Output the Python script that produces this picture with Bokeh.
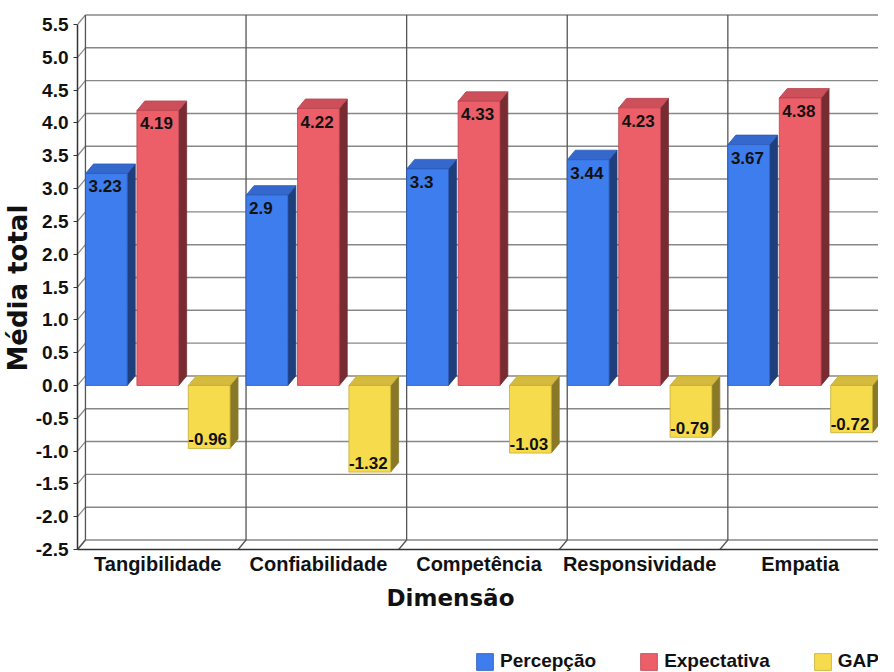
from bokeh.plotting import figure
from bokeh.layouts import column
from bokeh.models import Range1d, FixedTicker, Legend, LegendItem, Title
from bokeh.embed import file_html
from bokeh.resources import INLINE
from bokeh.core.properties import value

# ---------------- data ----------------
categories = ["Tangibilidade", "Confiabilidade", "Competência", "Responsividade", "Empatia"]
percepcao = [3.23, 2.9, 3.3, 3.44, 3.67]
expectativa = [4.19, 4.22, 4.33, 4.23, 4.38]
gap = [-0.96, -1.32, -1.03, -0.79, -0.72]
series_names = ["Percepção", "Expectativa", "GAP"]
y_ticks = [-2.5, -2.0, -1.5, -1.0, -0.5, 0.0, 0.5, 1.0, 1.5, 2.0, 2.5, 3.0, 3.5, 4.0, 4.5, 5.0, 5.5]

# ---------------- styling / geometry ----------------
W, H = 878, 637
LEG_H = 35
B_LEFT, B_RIGHT, B_TOP, B_BOTTOM = 72, 0, 12, 88
frame_w = W - B_LEFT - B_RIGHT
frame_h = H - B_TOP - B_BOTTOM
cat_px = 161.6
unit_px = 65.625
y_start = y_ticks[0]
y_end = y_start + frame_h / unit_px
x_end = frame_w / cat_px
DX = 8 / cat_px          # depth offset (x, data units)
DY = 9.5 / unit_px       # depth offset (y, data units)

front_colors = ["#3d7ded", "#ec5f69", "#f6dc4c"]
top_colors = ["#3568cc", "#cc4f59", "#d4bb40"]
side_colors = ["#1f3f7c", "#772c32", "#8a7829"]
edge_colors = ["#2c5bb8", "#b84550", "#c4ac34"]
offsets = [0.05, 0.37, 0.69]
bar_w = 0.26

p = figure(width=W, height=H, output_backend="svg", toolbar_location=None,
           x_range=Range1d(0, x_end), y_range=Range1d(y_start, y_end),
           min_border_left=B_LEFT, min_border_right=B_RIGHT,
           min_border_top=B_TOP, min_border_bottom=B_BOTTOM, title=None)
p.outline_line_color = None
p.xgrid.visible = False
p.ygrid.visible = False
p.background_fill_color = "white"

# ---------------- 3D walls ----------------
grid_col = "#888888"
wall_col = "#555555"
p.segment(x0=[DX] * len(y_ticks), y0=[v + DY for v in y_ticks],
          x1=[x_end + 1] * len(y_ticks), y1=[v + DY for v in y_ticks],
          line_color=grid_col, line_width=1.4)
p.segment(x0=[0] * len(y_ticks), y0=y_ticks, x1=[DX] * len(y_ticks),
          y1=[v + DY for v in y_ticks], line_color=grid_col, line_width=1.2)
bounds = list(range(len(categories) + 1))
p.segment(x0=[i + DX for i in bounds], y0=[y_start + DY] * len(bounds),
          x1=[i + DX for i in bounds], y1=[y_ticks[-1] + DY] * len(bounds),
          line_color=wall_col, line_width=1.3)
p.segment(x0=bounds, y0=[y_start] * len(bounds),
          x1=[i + DX for i in bounds], y1=[y_start + DY] * len(bounds),
          line_color=wall_col, line_width=1.3)

# ---------------- 3D bars ----------------
series = [percepcao, expectativa, gap]
for s, vals in enumerate(series):
    x0s, x1s, bots, tops = [], [], [], []
    top_xs, top_ys, side_xs, side_ys = [], [], [], []
    for i, v in enumerate(vals):
        x0 = i + offsets[s]
        x1 = x0 + bar_w
        bot = min(0, v)
        top = max(0, v)
        x0s.append(x0); x1s.append(x1); bots.append(bot); tops.append(top)
        top_xs.append([x0, x0 + DX, x1 + DX, x1])
        top_ys.append([top, top + DY, top + DY, top])
        side_xs.append([x1, x1, x1 + DX, x1 + DX])
        side_ys.append([bot, top, top + DY, bot + DY])
    p.patches(xs=side_xs, ys=side_ys, fill_color=side_colors[s], line_color=side_colors[s], line_width=0.8)
    p.patches(xs=top_xs, ys=top_ys, fill_color=top_colors[s], line_color=edge_colors[s], line_width=0.8)
    p.quad(left=x0s, right=x1s, bottom=bots, top=tops,
           fill_color=front_colors[s], line_color=edge_colors[s], line_width=0.8)

    # value labels
    lx = [x + 3 / cat_px for x in x0s]
    txt = [f"{v:g}" for v in vals]
    pos = [k for k, v in enumerate(vals) if v >= 0]
    neg = [k for k, v in enumerate(vals) if v < 0]
    if pos:
        p.text(x=[lx[k] for k in pos], y=[vals[k] - 7 / unit_px for k in pos], text=[txt[k] for k in pos],
               text_font=value("Liberation Sans"), text_font_style="bold", text_font_size="17px",
               text_baseline="top", text_align="left", text_color="#111111")
    if neg:
        p.text(x=[x0s[k] for k in neg], y=[vals[k] + 9 / unit_px for k in neg], text=[txt[k] for k in neg],
               text_font=value("Liberation Sans"), text_font_style="bold", text_font_size="17px",
               text_baseline="alphabetic", text_align="left", text_color="#111111")

# ---------------- axes ----------------
yax = p.yaxis[0]
yax.ticker = FixedTicker(ticks=y_ticks)
yax.major_label_overrides = {v: f"{v:.1f}" for v in y_ticks}
yax.bounds = (y_ticks[0], y_ticks[-1])
yax.major_tick_out = 4
yax.major_tick_in = 0
yax.minor_tick_out = 0
yax.minor_tick_in = 0
yax.major_label_standoff = 5
yax.axis_line_color = "#333333"
yax.axis_line_width = 1.5
yax.major_tick_line_color = "#333333"
yax.major_label_text_font = "Liberation Sans"
yax.major_label_text_font_style = "bold"
yax.major_label_text_font_size = "19px"
yax.major_label_text_color = "#111111"

p.add_layout(Title(text="Média total", align="left", offset=178, standoff=0,
                   text_font="DejaVu Sans", text_font_style="bold", text_font_size="26px",
                   text_color="#111111"), "left")

xax = p.xaxis[0]
xax.ticker = FixedTicker(ticks=[i + 0.5 for i in range(len(categories))])
xax.major_label_overrides = {i + 0.5: c for i, c in enumerate(categories)}
xax.major_tick_out = 0
xax.major_tick_in = 0
xax.minor_tick_out = 0
xax.minor_tick_in = 0
xax.major_label_standoff = 3
xax.axis_line_color = "#333333"
xax.axis_line_width = 1.5
xax.major_label_text_font = "Liberation Sans"
xax.major_label_text_font_style = "bold"
xax.major_label_text_font_size = "20px"
xax.major_label_text_color = "#111111"

p.add_layout(Title(text="Dimensão", align="left", offset=309, standoff=10,
                   text_font="DejaVu Sans", text_font_style="bold", text_font_size="23px",
                   text_color="#111111"), "below")

# ---------------- legend (separate strip) ----------------
pl = figure(width=W, height=LEG_H, output_backend="svg", toolbar_location=None,
            x_range=Range1d(0, W), y_range=Range1d(0, LEG_H),
            x_axis_location=None, y_axis_location=None,
            min_border_left=0, min_border_right=0, min_border_top=0, min_border_bottom=0,
            title=None)
pl.grid.visible = False
pl.outline_line_color = None
items = []
for s in range(3):
    r = pl.quad(left=[-20], right=[-10], bottom=[-20], top=[-10],
                fill_color=front_colors[s], line_color=edge_colors[s], line_width=0.8)
    items.append(LegendItem(label=series_names[s], renderers=[r]))
legend = Legend(items=items, orientation="horizontal", location=(397, 0),
                padding=0, margin=0, spacing=42, label_standoff=5,
                glyph_width=21, glyph_height=21,
                border_line_alpha=0, background_fill_alpha=0,
                label_text_font="Liberation Sans", label_text_font_style="bold",
                label_text_font_size="19px", label_text_color="#111111")
pl.add_layout(legend, "center")

layout = column(p, pl, spacing=0)
open("out.html", "w").write(file_html(layout, INLINE))
